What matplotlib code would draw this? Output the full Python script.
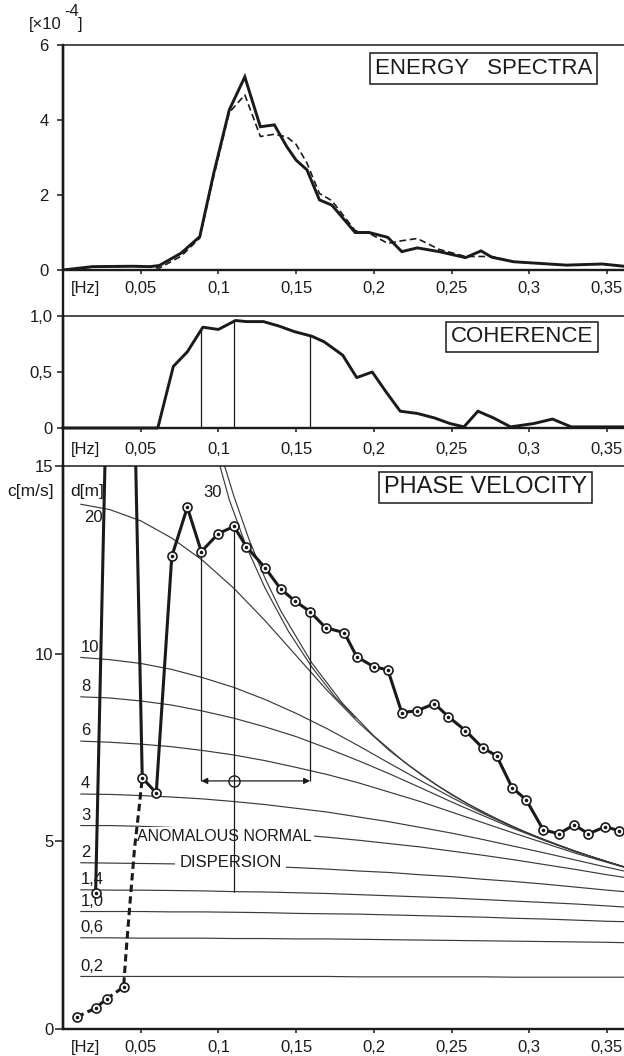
import numpy as np
import matplotlib
matplotlib.use("Agg")
import matplotlib.pyplot as plt
from matplotlib.lines import Line2D

plt.rcParams['font.family'] = ['Liberation Sans', 'DejaVu Sans']
INK = '#1a1a1a'
GREY = '#3a3a3a'

# ---------------- data ----------------
# Energy spectra [x 1e-4]
E_f = [0.0, 0.019, 0.045, 0.056, 0.062, 0.076, 0.088, 0.097, 0.107, 0.117, 0.127, 0.136, 0.144,
       0.150, 0.157, 0.165, 0.173, 0.188, 0.197, 0.209, 0.218, 0.228, 0.242, 0.259, 0.269, 0.276,
       0.290, 0.324, 0.347, 0.361]
E_solid = [0.0, 0.09, 0.10, 0.09, 0.12, 0.45, 0.89, 2.58, 4.27, 5.15, 3.82, 3.87, 3.29,
           2.93, 2.67, 1.87, 1.73, 1.00, 1.00, 0.87, 0.49, 0.59, 0.49, 0.33, 0.51, 0.34,
           0.22, 0.13, 0.16, 0.10]
E_dashed = [0.0, 0.08, 0.10, 0.08, 0.05, 0.37, 0.85, 2.50, 4.20, 4.67, 3.56, 3.62, 3.55,
            3.35, 2.85, 2.04, 1.85, 1.05, 0.98, 0.71, 0.78, 0.84, 0.55, 0.36, 0.36, 0.36,
            0.22, 0.13, 0.16, 0.10]

# Coherence
C_f = [0.0, 0.061, 0.071, 0.080, 0.090, 0.100, 0.111, 0.118, 0.129, 0.139, 0.149, 0.160, 0.168,
       0.180, 0.189, 0.199, 0.208, 0.217, 0.228, 0.239, 0.249, 0.258, 0.267, 0.277, 0.288,
       0.303, 0.315, 0.327, 0.361]
C_v = [0.0, 0.0, 0.55, 0.68, 0.90, 0.88, 0.96, 0.95, 0.95, 0.91, 0.86, 0.82, 0.77,
       0.65, 0.45, 0.50, 0.32, 0.15, 0.13, 0.09, 0.04, 0.01, 0.15, 0.09, 0.01,
       0.04, 0.08, 0.01, 0.01]

# Band markers (frequencies of the three vertical lines)
band_f = [0.089, 0.110, 0.159]
band_coh = [0.90, 0.96, 0.82]
band_c = [12.72, 13.39, 11.12]
band_arrow_c = 6.61
band_centre_low_c = 3.65

# Phase velocity, observed (solid); two values run off the top of the scale
P_f = [0.021, 0.0296, 0.0443, 0.051, 0.060, 0.070, 0.080, 0.089, 0.100, 0.110, 0.118, 0.130,
       0.140, 0.149, 0.159, 0.169, 0.181, 0.189, 0.200, 0.209, 0.218, 0.228, 0.239, 0.248,
       0.259, 0.270, 0.279, 0.289, 0.298, 0.309, 0.319, 0.329, 0.338, 0.349, 0.358]
P_c = [3.63, 20.0, 20.0, 6.69, 6.29, 12.59, 13.90, 12.72, 13.20, 13.39, 12.85, 12.29,
       11.73, 11.41, 11.12, 10.69, 10.56, 9.92, 9.65, 9.57, 8.43, 8.48, 8.67, 8.32,
       7.95, 7.49, 7.28, 6.43, 6.11, 5.31, 5.20, 5.44, 5.20, 5.39, 5.28]
P_offscale = [1, 2]

# Anomalous-dispersion branch (dashed)
A_f = [0.009, 0.021, 0.028, 0.039, 0.0405, 0.043, 0.046, 0.049, 0.051]
A_c = [0.32, 0.56, 0.80, 1.12, 2.00, 3.30, 4.80, 5.90, 6.69]
A_marked = [0, 1, 2, 3]

# Theoretical dispersion curves, depth d [m]
D_f = [0.0115, 0.03, 0.05, 0.07, 0.09, 0.11, 0.13, 0.15, 0.17, 0.19, 0.21, 0.23, 0.25,
       0.27, 0.29, 0.31, 0.33, 0.35, 0.361]
d_0_2 = [1.40, 1.40, 1.40, 1.40, 1.40, 1.40, 1.40, 1.40, 1.40, 1.39, 1.39, 1.39, 1.39, 1.39, 1.38, 1.38, 1.38, 1.38, 1.38]
d_0_6 = [2.43, 2.43, 2.42, 2.42, 2.42, 2.41, 2.41, 2.40, 2.40, 2.39, 2.38, 2.37, 2.36, 2.35, 2.34, 2.33, 2.32, 2.31, 2.30]
d_1_0 = [3.13, 3.13, 3.13, 3.12, 3.12, 3.11, 3.10, 3.08, 3.07, 3.06, 3.04, 3.02, 3.00, 2.98, 2.95, 2.93, 2.90, 2.87, 2.86]
d_1_4 = [3.71, 3.70, 3.70, 3.69, 3.68, 3.66, 3.65, 3.63, 3.61, 3.58, 3.55, 3.52, 3.49, 3.45, 3.41, 3.37, 3.33, 3.28, 3.25]
d_2 = [4.43, 4.42, 4.41, 4.40, 4.38, 4.36, 4.33, 4.30, 4.26, 4.21, 4.17, 4.11, 4.06, 3.99, 3.93, 3.86, 3.78, 3.70, 3.66]
d_3 = [5.42, 5.42, 5.40, 5.37, 5.34, 5.29, 5.24, 5.18, 5.11, 5.03, 4.94, 4.85, 4.74, 4.63, 4.51, 4.38, 4.25, 4.11, 4.04]
d_4 = [6.26, 6.25, 6.22, 6.18, 6.13, 6.06, 5.98, 5.88, 5.78, 5.65, 5.52, 5.37, 5.22, 5.05, 4.87, 4.69, 4.50, 4.31, 4.21]
d_6 = [7.67, 7.64, 7.59, 7.52, 7.42, 7.30, 7.15, 6.97, 6.78, 6.56, 6.31, 6.06, 5.78, 5.50, 5.22, 4.95, 4.68, 4.44, 4.31]
d_8 = [8.85, 8.82, 8.74, 8.63, 8.47, 8.28, 8.05, 7.79, 7.48, 7.15, 6.80, 6.43, 6.05, 5.69, 5.34, 5.02, 4.72, 4.46, 4.32]
d_10 = [9.90, 9.84, 9.74, 9.58, 9.36, 9.10, 8.78, 8.41, 8.00, 7.55, 7.08, 6.62, 6.17, 5.75, 5.37, 5.03, 4.73, 4.46, 4.32]
d_20 = [13.98, 13.84, 13.54, 13.08, 12.48, 11.74, 10.88, 9.95, 9.02, 8.17, 7.42, 6.79, 6.24, 5.78, 5.38, 5.04, 4.73, 4.46, 4.32]
depth_curves = [d_0_2, d_0_6, d_1_0, d_1_4, d_2, d_3, d_4, d_6, d_8, d_10, d_20]
depth_labels = ['0,2', '0,6', '1,0', '1,4', '2', '3', '4', '6', '8', '10', '20']

# the "30" curve and the deep-water limit, entering from the top
d30_f = [0.101, 0.107, 0.118, 0.130, 0.145, 0.160, 0.175, 0.188]
d30_c = [15.0, 14.1, 12.85, 11.75, 10.6, 9.65, 8.85, 8.30]
deep_f = [0.104, 0.11, 0.12, 0.13, 0.14, 0.16, 0.18, 0.20, 0.22, 0.24, 0.26, 0.28, 0.30, 0.32, 0.34, 0.361]
deep_c = [15.0, 14.19, 13.01, 12.01, 11.15, 9.76, 8.67, 7.81, 7.10, 6.51, 6.01, 5.58, 5.20, 4.88, 4.59, 4.32]

x_ticks = [0.05, 0.10, 0.15, 0.20, 0.25, 0.30, 0.35]
x_ticklabels = ['0,05', '0,1', '0,15', '0,2', '0,25', '0,3', '0,35']
hz_pos = 0.0145

# ---------------- figure ----------------
W, H = 624, 1056
fig = plt.figure(figsize=(W / 100, H / 100), dpi=100)
fig.patch.set_facecolor('white')

L = 63 / W
def axes_px(top, bottom):
    return fig.add_axes([L, 1 - bottom / H, 1 - L, (bottom - top) / H])

ax1 = axes_px(45, 270)
ax2 = axes_px(316, 428)
ax3 = axes_px(466, 1029)

XMAX = 0.361
for ax in (ax1, ax2, ax3):
    ax.set_xlim(0, XMAX)
    ax.spines['right'].set_visible(False)
    for s in ('left', 'bottom'):
        ax.spines[s].set_linewidth(1.7)
        ax.spines[s].set_color(INK)
    ax.spines['top'].set_linewidth(1.1)
    ax.spines['top'].set_color(INK)
    ax.set_xticks([hz_pos] + x_ticks)
    ax.set_xticklabels(['[Hz]'] + x_ticklabels)
    ax.xaxis.get_major_ticks()[0].tick1line.set_visible(False)
    ax.tick_params(axis='x', direction='out', length=3, width=1.1, pad=5, labelsize=12,
                   colors=INK)
    ax.tick_params(axis='y', direction='out', width=1.1, labelsize=12, colors=INK)
    ax.set_facecolor('none')

# continuous left axis line
fig.add_artist(Line2D([L, L], [1 - 1029 / H, 1 - 45 / H], transform=fig.transFigure,
                      color=INK, lw=1.7, solid_capstyle='butt'))

# ---- energy spectra ----
ax1.set_ylim(0, 6)
ax1.set_yticks([0, 2, 4, 6])
ax1.set_yticklabels(['0', '2', '4', '6'])
ax1.tick_params(axis='y', length=4.5, pad=6)
ax1.plot(E_f, E_dashed, color=INK, lw=1.2, dashes=(4, 2.2), zorder=4)
ax1.plot(E_f, E_solid, color=INK, lw=2.1, zorder=5, solid_joinstyle='miter')
ax1.text(0.2706, 5.37, 'ENERGY   SPECTRA', fontsize=16, color=INK, ha='center', va='center',
         bbox=dict(boxstyle='square,pad=0.22', fc='white', ec=INK, lw=1.1))
fig.text(29 / W, 1 - 25 / H, '[×10', fontsize=12, color=INK, va='center', ha='left')
fig.text(64 / W, 1 - 12 / H, '-4', fontsize=12, color=INK, va='center', ha='left')
fig.text(78 / W, 1 - 25 / H, ']', fontsize=12, color=INK, va='center', ha='left')

# ---- coherence ----
ax2.set_ylim(0, 1.0)
ax2.set_yticks([0, 0.5, 1.0])
ax2.set_yticklabels(['0', '0,5', '1,0'])
ax2.tick_params(axis='y', length=4.5, pad=3)
ax2.tick_params(axis='x', pad=7)
ax2.plot(C_f, C_v, color=INK, lw=2.1, zorder=5, clip_on=False)
ax2.vlines(band_f, 0, band_coh, color=INK, lw=0.9, zorder=4)
ax2.text(0.2954, 0.8125, 'COHERENCE', fontsize=16, color=INK, ha='center', va='center',
         bbox=dict(boxstyle='square,pad=0.22', fc='white', ec=INK, lw=1.1))

# ---- phase velocity ----
ax3.set_ylim(0, 15)
ax3.set_yticks([0, 5, 10, 15])
ax3.set_yticklabels(['0', '5', '10', '15'])
ax3.tick_params(axis='y', length=6, pad=1)

for cvals, lab in zip(depth_curves, depth_labels):
    ax3.plot(D_f, cvals, color=GREY, lw=0.85, zorder=2)
    if lab == '20':
        ax3.annotate(lab, (D_f[0], cvals[0]), xytext=(2, -4), textcoords='offset points',
                     ha='left', va='top', fontsize=12, color=INK)
    else:
        ax3.annotate(lab, (D_f[0], cvals[0]), xytext=(0, 2), textcoords='offset points',
                     ha='left', va='bottom', fontsize=12, color=INK)
ax3.plot(d30_f, d30_c, color=GREY, lw=0.85, zorder=2)
ax3.plot(deep_f, deep_c, color=GREY, lw=0.85, zorder=2)
ax3.text(0.0965, 14.3, '30', fontsize=12, color=INK, ha='center', va='center')

# labels on the curves (white background breaks the thin lines)
ax3.text(0.0476, 5.12, 'ANOMALOUS NORMAL', fontsize=11.5, color=INK, ha='left', va='center',
         zorder=3, bbox=dict(boxstyle='square,pad=0.12', fc='white', ec='none'))
ax3.text(0.108, 4.43, 'DISPERSION', fontsize=12, color=INK, ha='center', va='center',
         zorder=3, bbox=dict(boxstyle='square,pad=0.25', fc='white', ec='none'))

# band lines and arrow
ax3.vlines([band_f[0], band_f[2]], band_arrow_c, [band_c[0], band_c[2]], color=INK, lw=0.9, zorder=4)
ax3.vlines(band_f[1], band_centre_low_c, band_c[1], color=INK, lw=0.9, zorder=4)
ax3.annotate('', xy=(band_f[0], band_arrow_c), xytext=(band_f[2], band_arrow_c),
             arrowprops=dict(arrowstyle='<|-|>', lw=0.9, color=INK, mutation_scale=9,
                             shrinkA=0, shrinkB=0), zorder=4)
ax3.plot([band_f[1]], [band_arrow_c], marker='o', ms=8, mfc='none', mec=INK, mew=1.0, zorder=5)

# observed phase velocity
marked = [i for i in range(len(P_f)) if i not in P_offscale]
ax3.plot(P_f, P_c, color=INK, lw=2.2, zorder=5, solid_joinstyle='miter')
ax3.plot([P_f[i] for i in marked], [P_c[i] for i in marked], ls='none', marker='o', ms=6.5,
         mfc='white', mec=INK, mew=1.2, zorder=6)
ax3.plot([P_f[i] for i in marked], [P_c[i] for i in marked], ls='none', marker='o', ms=1.6,
         mfc=INK, mec=INK, zorder=7)

# anomalous branch
ax3.plot(A_f, A_c, color=INK, lw=2.2, dashes=(2.4, 1.4), zorder=5)
ax3.plot([A_f[i] for i in A_marked], [A_c[i] for i in A_marked], ls='none', marker='o', ms=6.5,
         mfc='white', mec=INK, mew=1.2, zorder=6)
ax3.plot([A_f[i] for i in A_marked], [A_c[i] for i in A_marked], ls='none', marker='o', ms=1.6,
         mfc=INK, mec=INK, zorder=7)

ax3.text(0.2719, 14.43, 'PHASE VELOCITY', fontsize=17, color=INK, ha='center', va='center',
         bbox=dict(boxstyle='square,pad=0.2', fc='white', ec=INK, lw=1.1), zorder=8)

fig.text(7 / W, 1 - 492 / H, 'c[m/s]', fontsize=12.5, color=INK, ha='left', va='center')
fig.text(70 / W, 1 - 492 / H, 'd[m]', fontsize=12.5, color=INK, ha='left', va='center')

fig.savefig('out.png', dpi=100, facecolor='white')
